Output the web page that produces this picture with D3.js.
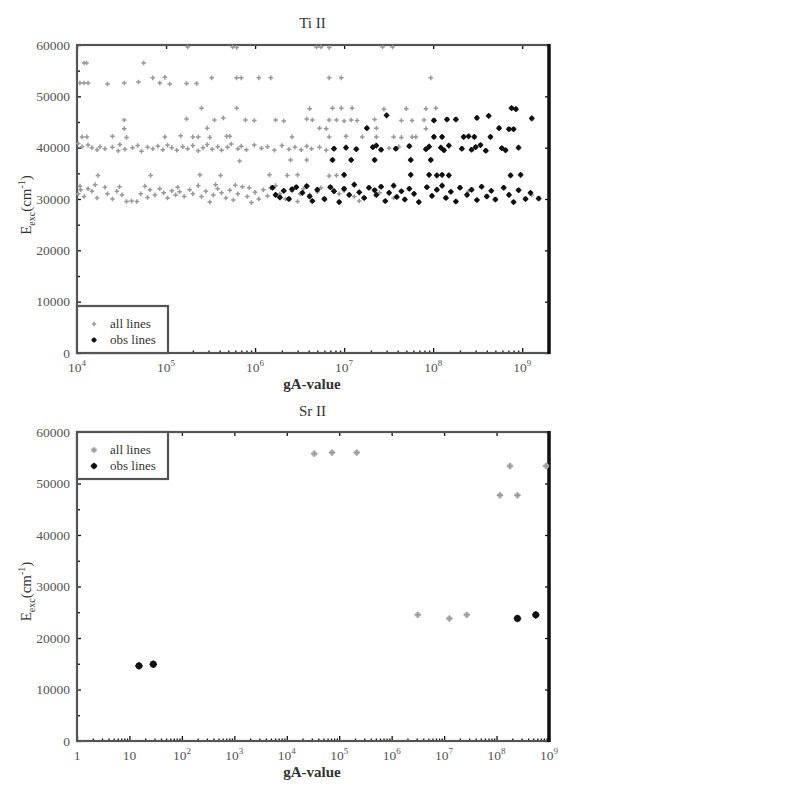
<!DOCTYPE html>
<html><head><meta charset="utf-8">
<script src="https://cdn.jsdelivr.net/npm/d3@7"></script>
<style>
body{margin:0;background:#fff}
text{font-family:"Liberation Serif","DejaVu Serif",serif}
</style>
</head><body>
<svg id="c" width="795" height="795"></svg>
<script>
// ---------- DATA ----------
const titles = ["Ti II", "Sr II"];
const legendLabels = ["all lines", "obs lines"];
const yTicks = [0, 10000, 20000, 30000, 40000, 50000, 60000];
const yMinorTicks = [5000, 15000, 25000, 35000, 45000, 55000];
const tiXTicks = [1e4, 1e5, 1e6, 1e7, 1e8, 1e9];
const srXTicks = [1, 10, 1e2, 1e3, 1e4, 1e5, 1e6, 1e7, 1e8, 1e9];

// Ti II : all lines  [gA, E_exc]
const tiAll = [
 [1.75e5,59600],[5.6e5,59600],[6.2e5,59500],[4.9e6,59600],[5.5e6,59600],[6.8e6,59500],[2.7e7,59600],[3.5e7,59600],
 [1.2e4,56500],[1.28e4,56500],[5.6e4,56500],
 [1.08e4,52600],[1.2e4,52600],[1.33e4,52600],[2.2e4,52400],[3.4e4,52600],[4.9e4,52800],[8.5e4,52600],[1.1e5,52400],[1.7e5,52500],[2.2e5,52500],
 [7.1e4,53600],[9.7e4,53700],[3.25e5,53600],[6.2e5,53600],[7.0e5,53600],[1.1e6,53600],[1.5e6,53600],[6.8e6,53600],[9.3e6,53600],[9.4e7,53600],
 [2.5e5,47700],[6.2e5,47700],[4.1e6,47600],[7.4e6,47700],[9.3e6,47700],[1.23e7,47700],[2.8e7,47500],[5.0e7,47600],[8.3e7,47600],[1.07e8,47700],
 [3.4e4,45400],[1.7e5,45600],[3.5e5,45400],[4.4e5,45800],[7.8e5,45400],[9.8e5,45300],[1.7e6,45400],[2.1e6,45200],[3.8e6,45600],[4.4e6,45400],
 [6.8e6,45400],[8.2e6,45400],[1.0e7,45200],[1.2e7,45400],[1.4e7,45300],[2.2e7,45500],[4.4e7,45300],[5.8e7,45300],[7.9e7,45400],
 [3.4e4,43700],[2.9e5,43800],[5.3e6,43800],[6.3e6,43700],[2.3e7,43800],[8.3e7,43700],
 [1.14e4,42100],[1.29e4,42100],[2.5e4,42200],[3.6e4,42000],[9.7e4,42100],[1.46e5,42300],[2.0e5,42100],[2.3e5,42100],[3.1e5,42000],[4.8e5,42200],
 [5.2e5,42200],[2.6e6,42100],[6.8e6,42100],[1.05e7,42200],[1.6e7,42100],[2.3e7,42100],[3.6e7,42100],[4.4e7,42000],[5.8e7,42100],[6.4e7,42100],
 [1.03e4,40800],[1.14e4,40200],[1.33e4,40500],[1.47e4,40000],[1.68e4,39600],[1.81e4,40200],[2.06e4,39800],[2.5e4,40100],[2.9e4,39400],[3.03e4,40600],
 [3.45e4,39700],[4.2e4,40000],[4.8e4,40400],[5.3e4,39300],[6.2e4,40100],[7.1e4,39800],[8.1e4,40300],[9.2e4,39600],[1.04e5,40500],[1.16e5,40000],
 [1.32e5,39500],[1.54e5,40200],[1.75e5,39800],[2.0e5,40400],[2.3e5,39400],[2.6e5,40000],[2.9e5,40600],[3.3e5,39700],[3.8e5,40200],[4.2e5,39500],
 [4.9e5,40100],[5.4e5,40700],[6.4e5,39800],[7.0e5,40300],[8.0e5,39600],[9.8e5,40500],[1.18e6,39900],[1.38e6,40200],[1.65e6,39500],[2.0e6,40400],
 [2.4e6,39700],[2.8e6,40100],[3.3e6,39600],[3.8e6,40300],[4.3e6,39800],[5.3e6,40100],[6.3e6,39500],[3.2e7,39900],[4.1e7,40200],
 [6.7e5,37400],[2.5e6,37600],[3.8e6,37600],
 [1.72e4,34600],[6.7e4,34600],[2.4e5,34700],[4.1e5,34600],[1.45e6,34700],[2.3e6,34600],[3.0e6,34700],[6.8e6,34500],[8.2e6,34600],
 [1.03e4,31000],[1.08e4,32500],[1.2e4,30500],[1.33e4,32000],[1.47e4,31500],[1.68e4,30200],[2.06e4,32300],[2.2e4,31000],[2.5e4,30000],[2.8e4,31500],
 [3.2e4,30800],[3.6e4,29500],[4.1e4,29600],[4.7e4,29500],[5.2e4,31000],[5.8e4,32500],[6.6e4,31800],[7.5e4,30800],[8.5e4,32000],[9.4e4,31200],
 [1.04e5,30200],[1.16e5,31600],[1.28e5,30800],[1.42e5,31400],[1.6e5,30500],[1.84e5,31800],[2.0e5,31000],[2.3e5,32600],[2.5e5,30500],[2.8e5,31500],
 [3.1e5,29400],[3.4e5,30800],[3.8e5,32000],[4.2e5,31200],[4.7e5,30200],[5.2e5,31700],[5.7e5,29800],[6.4e5,31000],[7.2e5,32400],[8.2e5,30500],
 [9.1e5,29300],[1.0e6,31300],[1.1e6,30000],[1.24e6,31800],[1.38e6,30600],[1.5e6,32200],[1.9e6,31000],[2.2e6,30000],[2.6e6,31500],[3.0e6,29500],
 [3.5e6,32000],[4.1e6,30800],[5.0e6,31400],[6.1e6,29800],[7.4e6,32000],[8.8e6,31000],[1.3e7,30500],[2.5e7,31200],[1.28e9,30800],[5.5e6,32200],
 [1.0e7,31600],[1.48e7,29600],[3.6e7,30200],[2.5e8,31500],
 [1.1e4,31800],[1.6e4,32800],[3.0e4,32400],[6.2e4,30300],[1.35e5,32300],[3.6e5,32800],[6.0e5,32700],[8.6e5,32200],[1.7e6,32600],[3.2e6,31000]
];

// Ti II : observed lines  [gA, E_exc]
const tiObs = [
 [7.6e8,47700],[8.5e8,47500],
 [3.0e7,46300],[1.02e8,45300],[1.43e8,45500],[1.8e8,45500],[3.1e8,45800],[4.2e8,46200],[1.28e9,45700],
 [1.8e7,43800],[5.5e8,43800],[7.1e8,43600],[8.0e8,43600],
 [1.02e8,42100],[1.26e8,42100],[2.2e8,42100],[2.5e8,42200],[2.9e8,42100],[4.4e8,42100],
 [7.7e6,39800],[1.05e7,40000],[1.37e7,39700],[2.1e7,40100],[2.3e7,40400],[2.6e7,39600],[3.8e7,39800],[5.4e7,40300],[8.3e7,39700],[9.0e7,40200],
 [1.22e8,40000],[1.32e8,39500],[1.5e8,40400],[2.1e8,39800],[2.7e8,39600],[3.0e8,40100],[3.4e8,40500],[3.9e8,39400],[5.9e8,39900],[6.5e8,39500],[9.1e8,40000],
 [7.4e6,37600],[1.2e7,37600],[2.2e7,37600],[5.6e7,37600],[9.4e7,37600],
 [1.0e7,34700],[5.6e7,34700],[9.0e7,34700],[1.1e8,34600],[1.26e8,34700],[1.5e8,34600],[7.4e8,34600],[9.6e8,34700],
 [1.57e6,32200],[1.7e6,30800],[1.9e6,30300],[2.1e6,31600],[2.4e6,30000],[2.6e6,31900],[2.9e6,32300],[3.4e6,31200],[3.8e6,32500],[4.1e6,30500],
 [4.4e6,29600],[5.0e6,31800],[6.0e6,30000],[7.0e6,32300],[7.7e6,31500],[8.8e6,29400],[1.0e7,32000],[1.14e7,30800],[1.3e7,32800],[1.48e7,31300],
 [1.68e7,30200],[1.9e7,32200],[2.2e7,31700],[2.3e7,30800],[2.6e7,32400],[2.9e7,29600],[3.2e7,31200],[3.6e7,32600],[3.9e7,30400],[4.4e7,31500],
 [4.8e7,29900],[5.4e7,32000],[6.1e7,31000],[6.9e7,29400],[8.5e7,32300],[9.7e7,30600],[1.1e8,31800],[1.26e8,32600],[1.39e8,30200],[1.58e8,31400],
 [1.8e8,29500],[2.0e8,32200],[2.4e8,30800],[2.7e8,31800],[3.1e8,29800],[3.5e8,32400],[4.0e8,30500],[4.5e8,31600],[5.0e8,29900],[6.2e8,32200],
 [7.1e8,30800],[8.0e8,29400],[9.1e8,31700],[1.09e9,30000],[1.24e9,31200],[1.53e9,30100]
];

// Sr II
const srAll = [
 [3.35e4,55800],[7.3e4,56000],[2.15e5,56000],
 [1.8e8,53400],[8.8e8,53400],[1.16e8,47700],[2.5e8,47700],
 [3.14e6,24500],[1.26e7,23800],[2.7e7,24500]
];
const srObs = [
 [15.2,14600],[28.5,14900],[2.5e8,23800],[5.6e8,24500]
];

// ---------- DRAW ----------
const svg = d3.select("#c");

function minorTicks(domain){
  const out = [];
  for (let p = Math.floor(Math.log10(domain[0])); p <= Math.ceil(Math.log10(domain[1])); p++){
    for (let k = 2; k <= 9; k++){
      const v = k * Math.pow(10, p);
      if (v > domain[0] && v < domain[1]) out.push(v);
    }
  }
  return out;
}

function panel(cfg){
  const g = svg.append("g").attr("transform", `translate(${cfg.left},${cfg.top})`);
  const x = d3.scaleLog().domain(cfg.xDomain).range([0, cfg.w]);
  const y = d3.scaleLinear().domain([0, 60000]).range([cfg.h, 0]);

  const style = sel => {
    sel.attr("font-family", null);
    sel.select(".domain").remove();
    sel.selectAll(".tick line").attr("stroke", "#111").attr("stroke-width", 1.3);
    sel.selectAll(".tick text").attr("font-size", 13.5).attr("fill", "#555")
       .style("font-family", '"Liberation Serif", serif');
  };

  // y axes
  g.append("g").call(d3.axisLeft(y).tickValues(yTicks).tickSize(-4).tickPadding(7)
      .tickFormat(d3.format("d"))).call(style);
  g.append("g").call(d3.axisLeft(y).tickValues(yMinorTicks).tickSize(-3).tickFormat("")).call(style);
  g.append("g").attr("transform", `translate(${cfg.w},0)`)
    .call(d3.axisRight(y).tickValues(yTicks).tickSize(-4).tickFormat("")).call(style);

  // x axes
  g.append("g").attr("transform", `translate(0,${cfg.h})`)
    .call(d3.axisBottom(x).tickValues(cfg.xTicks).tickSize(-5).tickFormat("")).call(style);
  g.append("g").attr("transform", `translate(0,${cfg.h})`)
    .call(d3.axisBottom(x).tickValues(minorTicks(cfg.xDomain)).tickSize(-2.5).tickFormat("")).call(style);
  g.append("g").call(d3.axisTop(x).tickValues(cfg.xTicks).tickSize(-4).tickFormat("")).call(style);

  // x tick labels with superscripts
  const lab = g.append("g").selectAll("text").data(cfg.xTicks).join("text")
    .attr("x", d => x(d)).attr("y", cfg.h + 19).attr("text-anchor", "middle")
    .attr("font-size", 13.5).attr("fill", "#555");
  lab.each(function(d){
    const e = Math.round(Math.log10(d));
    const t = d3.select(this);
    if (e === 0) { t.text("1"); return; }
    if (e === 1) { t.text("10"); return; }
    t.append("tspan").text("10");
    t.append("tspan").attr("dy", -6).attr("font-size", 9).text(e);
  });

  // frame
  g.append("rect").attr("width", cfg.w).attr("height", cfg.h)
    .attr("fill", "none").attr("stroke", "#555").attr("stroke-width", 2.2);
  g.append("line").attr("x1", cfg.w).attr("x2", cfg.w).attr("y1", -1).attr("y2", cfg.h + 1)
    .attr("stroke", "#111").attr("stroke-width", 3.5);

  // points
  const grayMark = (sel, s) => {
    if (cfg.big) sel.append("circle").attr("r", 2.8).attr("fill", "#c4c4c4");
    sel.append("path").attr("d", `M${-s},0H${s}M0,${-s}V${s}`)
      .attr("stroke", "#999").attr("stroke-width", 1.5);
  };
  const blackMark = (sel, r) => {
    sel.append("circle").attr("r", r).attr("fill", "#111");
    sel.append("path").attr("d", `M${-r-0.4},0H${r+0.4}M0,${-r-0.4}V${r+0.4}`)
      .attr("stroke", "#111").attr("stroke-width", 1.4);
  };
  const gs = cfg.big ? 3.2 : 2.3, br = cfg.big ? 3.4 : 2.4;

  g.append("g").selectAll("g").data(cfg.all).join("g")
    .attr("transform", d => `translate(${x(d[0])},${y(d[1])})`)
    .call(sel => grayMark(sel, gs));
  g.append("g").selectAll("g").data(cfg.obs).join("g")
    .attr("transform", d => `translate(${x(d[0])},${y(d[1])})`)
    .call(sel => blackMark(sel, br));

  // legend
  const lg = g.append("g").attr("transform", `translate(0,${cfg.legY})`);
  lg.append("rect").attr("width", 91).attr("height", 47).attr("fill", "#fff")
    .attr("stroke", "#555").attr("stroke-width", 2.2);
  const items = lg.selectAll("g").data(legendLabels).join("g")
    .attr("transform", (d, i) => `translate(0,${18 + i * 16})`);
  items.append("text").attr("x", 33).attr("y", 4).attr("font-size", 13).attr("fill", "#333").text(d => d);
  const m0 = items.filter((d, i) => i === 0).append("g").attr("transform", "translate(17,0)");
  grayMark(m0, cfg.big ? 2.6 : 2.2);
  const m1 = items.filter((d, i) => i === 1).append("g").attr("transform", "translate(17,0)");
  blackMark(m1, cfg.big ? 2.8 : 2.2);

  // titles
  g.append("text").attr("x", cfg.w / 2 - 0.5).attr("y", cfg.titleY).attr("text-anchor", "middle")
    .attr("font-size", 15).attr("fill", "#333").text(cfg.title);
  g.append("text").attr("x", cfg.w / 2 - 1).attr("y", cfg.h + 36).attr("text-anchor", "middle")
    .attr("font-size", 15).attr("font-weight", "bold").attr("fill", "#333").text("gA-value");

  const yl = g.append("text").attr("transform", `translate(-46,${cfg.h / 2 + cfg.ylOff}) rotate(-90)`)
    .attr("text-anchor", "middle").attr("font-size", 15).attr("fill", "#333");
  yl.append("tspan").text("E");
  yl.append("tspan").attr("dy", 4).attr("font-size", 10).text("exc");
  yl.append("tspan").attr("dy", -4).text("(cm");
  yl.append("tspan").attr("dy", -6).attr("font-size", 10).text("-1");
  yl.append("tspan").attr("dy", 6).text(")");
}

panel({left: 77, top: 45, w: 472, h: 308, xDomain: [1e4, 2e9], xTicks: tiXTicks,
       all: tiAll, obs: tiObs, legY: 261, title: titles[0], titleY: -17, big: false, ylOff: 6});
panel({left: 77, top: 432, w: 472, h: 309, xDomain: [1, 1e9], xTicks: srXTicks,
       all: srAll, obs: srObs, legY: 0, title: titles[1], titleY: -16, big: true, ylOff: 5});
</script>
</body></html>
